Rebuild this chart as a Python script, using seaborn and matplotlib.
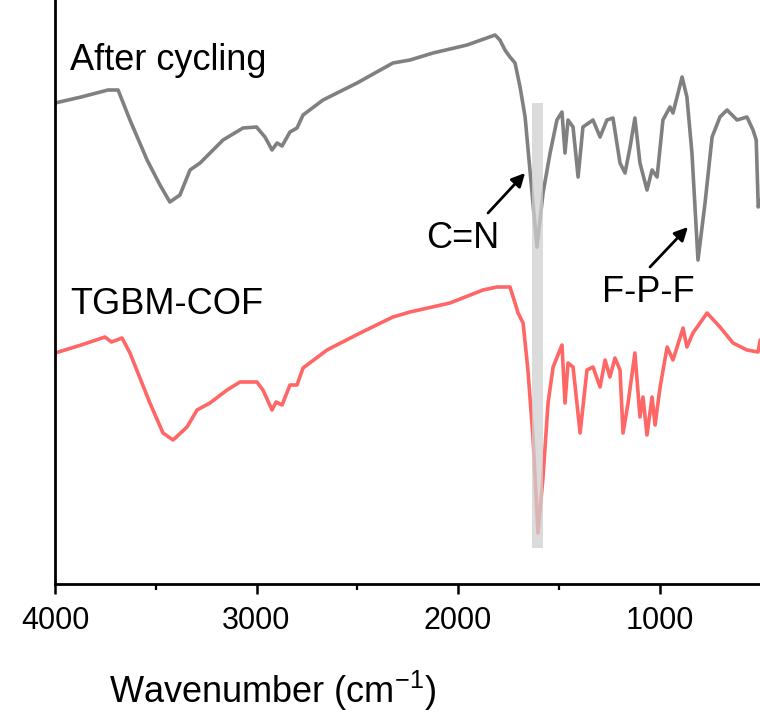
import matplotlib
matplotlib.use("Agg")
import matplotlib.pyplot as plt
import seaborn as sns
import pandas as pd

# ---- data (wavenumber in cm-1, intensity in arbitrary units) ----
wn_after = [4000, 3870, 3737, 3687, 3628, 3543, 3479, 3430, 3380, 3330, 3280, 3166, 3067, 3000,
            2958, 2923, 2898, 2873, 2834, 2799, 2769, 2670, 2501, 2323, 2238, 2124, 1955, 1816,
            1792, 1767, 1742, 1717, 1692, 1667, 1643, 1608, 1578, 1543, 1509, 1484, 1469, 1454,
            1429, 1404, 1380, 1330, 1295, 1261, 1231, 1196, 1171, 1146, 1122, 1097, 1062, 1037,
            1012, 983, 948, 933, 888, 864, 839, 809, 774, 739, 700, 665, 615, 566, 536, 520,
            510, 500]
int_after = [481, 487, 494, 494, 464, 424, 399, 382, 389, 414, 421, 444, 456, 457,
             447, 434, 441, 438, 452, 456, 469, 484, 501, 521, 524, 531, 539, 549,
             544, 534, 527, 521, 497, 467, 414, 337, 391, 431, 464, 472, 431, 464,
             457, 407, 457, 464, 447, 464, 466, 421, 411, 437, 466, 421, 394, 414,
             407, 464, 477, 471, 507, 487, 431, 324, 381, 447, 467, 474, 464, 467, 454, 444,
             377, 384]

wn_cof = [4000, 3870, 3752, 3720, 3667, 3628, 3529, 3464, 3414, 3345, 3295, 3231, 3146, 3082,
          2998, 2968, 2923, 2903, 2873, 2834, 2799, 2769, 2650, 2486, 2323, 2238, 2040, 1876,
          1807, 1742, 1717, 1702, 1677, 1653, 1628, 1603, 1578, 1553, 1528, 1484, 1469, 1454,
          1429, 1394, 1360, 1330, 1295, 1270, 1246, 1221, 1196, 1181, 1156, 1122, 1097, 1082,
          1062, 1037, 1022, 997, 962, 933, 883, 864, 834, 764, 700, 635, 566, 511, 500]
int_cof = [231, 239, 247, 242, 246, 231, 181, 151, 144, 157, 174, 181, 194, 202,
           202, 194, 174, 182, 179, 199, 199, 216, 234, 251, 267, 272, 281, 294,
           297, 297, 281, 271, 261, 214, 147, 51, 107, 181, 217, 239, 181, 221,
           217, 151, 214, 217, 197, 224, 207, 226, 214, 151, 181, 231, 167, 187,
           149, 187, 159, 197, 237, 224, 256, 237, 251, 271, 257, 241, 234, 232, 244]

series_labels = ["After cycling", "TGBM-COF"]
peak_labels = ["C=N", "F-P-F"]
band_range = [1633, 1578]
xticks = [4000, 3000, 2000, 1000]
xlabel = "Wavenumber (cm$^{-1}$)"

# ---- style ----
sns.set_style("ticks")
plt.rcParams["font.family"] = ["Liberation Sans", "DejaVu Sans"]
plt.rcParams["mathtext.default"] = "regular"
plt.rcParams["text.color"] = "black"
plt.rcParams["axes.labelcolor"] = "black"
plt.rcParams["axes.edgecolor"] = "black"
plt.rcParams["xtick.color"] = "black"
plt.rcParams["ytick.color"] = "black"

fig = plt.figure(figsize=(7.6, 7.15), dpi=100)
ax = fig.add_axes([55 / 760, 131 / 715, 725.4 / 760, 594 / 715])

df_after = pd.DataFrame({"wn": wn_after, "y": int_after})
df_cof = pd.DataFrame({"wn": wn_cof, "y": int_cof})
sns.lineplot(data=df_after, x="wn", y="y", ax=ax, color="#808080", lw=2.6, sort=False,
             estimator=None)
sns.lineplot(data=df_cof, x="wn", y="y", ax=ax, color="#FF6666", lw=2.6, sort=False,
             estimator=None)

ax.fill_betweenx([36, 481], band_range[0], band_range[1], color="#d0d0d0", alpha=0.75,
                 lw=0, zorder=3)

ax.set_xlim(4000, 400)
ax.set_ylim(0, 594)
ax.set_xticks(xticks)
ax.set_xticks([3500, 2500, 1500], minor=True)
ax.set_yticks([])
ax.set_ylabel("")
ax.tick_params(axis="x", which="major", direction="out", length=7, width=1.8, pad=9,
               labelsize=22, colors="black")
ax.tick_params(axis="x", which="minor", direction="out", length=4, width=1.6, colors="black")
for s in ["left", "bottom"]:
    ax.spines[s].set_linewidth(2.0)
    ax.spines[s].set_color("black")
for s in ["top", "right"]:
    ax.spines[s].set_visible(False)

ax.set_xlabel(xlabel, fontsize=26, color="black")
ax.xaxis.label.set_va("center")
ax.xaxis.set_label_coords(0.30, -0.18)

ax.text(3926, 524, series_labels[0], fontsize=26, va="center", ha="left", color="black")
ax.text(3926, 279, series_labels[1], fontsize=26, va="center", ha="left", color="black")

arrow = dict(arrowstyle="-|>", color="black", lw=2, mutation_scale=20, shrinkA=0, shrinkB=0)
ax.annotate("", xy=(1667, 411), xytext=(1851, 371), arrowprops=arrow)
ax.text(1975, 346, peak_labels[0], fontsize=26, ha="center", va="center", color="black")
ax.annotate("", xy=(859, 357), xytext=(1047, 317), arrowprops=arrow)
ax.text(1057, 292, peak_labels[1], fontsize=26, ha="center", va="center", color="black")

fig.savefig("out.png", dpi=100)
